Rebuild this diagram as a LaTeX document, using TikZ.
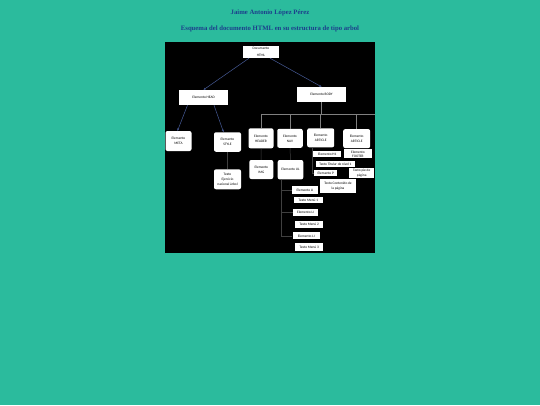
\documentclass[tikz,border=0pt]{standalone}
\usepackage{fontspec}
\setmainfont{Liberation Serif}
\newfontfamily\boxfont{Carlito}
\usepackage{xcolor}
\usetikzlibrary{arrows.meta}
\definecolor{fondo}{RGB}{43,187,157}
\definecolor{titulo}{RGB}{28,62,140}
\definecolor{flecha}{RGB}{70,90,150}

\begin{document}
\begin{tikzpicture}[y=-1pt,x=1pt,
	caja/.style={fill=white, inner sep=0pt, align=center, font=\boxfont\fontsize{3.5}{5}\selectfont},
	redonda/.style={caja, rounded corners=2pt},
	tam/.style 2 args={minimum width=#1pt, minimum height=#2pt},
	flechita/.style={draw=flecha, line width=0.5pt, -{Stealth[length=2.5pt,width=2pt]}},
	rama/.style={draw=gray, line width=0.5pt},
	ramita/.style={draw=darkgray, line width=0.5pt}]

	\fill[fondo] (0,0) rectangle (540,405);
	\fill[black] (164.5,42) rectangle (375,252.5);

	\node[font=\bfseries\fontsize{6.7}{8}\selectfont, text=titulo] (autor) at (270,13) {Jaime Antonio López Pérez};
	\node[font=\bfseries\fontsize{6.7}{8}\selectfont, text=titulo] (titulo) at (270,29.3) {Esquema del documento HTML en su estructura de tipo arbol};

	\node[caja, font=\boxfont\fontsize{3.5}{7}\selectfont, tam={36}{12}] (doc) at (261,52) {Documento\\HTML};
	\node[caja, tam={49}{15}] (head) at (203.5,97.5) {Elemento HEAD};
	\node[caja, tam={49}{15}] (body) at (321.5,94.5) {Elemento BODY};

	\node[redonda, tam={26}{20}] (meta) at (178.5,141) {Elemento\\META};
	\node[redonda, tam={27}{19.5}] (style) at (227.5,142) {Elemento\\STYLE};
	\node[redonda, tam={27}{20}] (txtstyle) at (227.5,179.3) {Texto\\Ejercicio\\nacional árbol};

	\node[redonda, tam={25}{20}] (header) at (261,138.3) {Elemento\\HEADER};
	\node[redonda, tam={25.5}{19}] (nav) at (290,138.3) {Elemento\\NAV};
	\node[redonda, tam={27}{19}] (article) at (320.7,137.8) {Elemento\\ARTICLE};
	\node[redonda, tam={27}{19}] (article2) at (356.7,138.6) {Elemento\\ARTICLE};
	\node[redonda, tam={24}{19}] (img) at (261.3,169.5) {Elemento\\IMG};
	\node[redonda, tam={25.6}{19.3}] (ul) at (290.5,169.7) {Elemento UL};

	\node[caja, tam={27.7}{6.3}] (h1) at (327.2,154.2) {Elemento H1};
	\node[caja, font=\boxfont\fontsize{3.5}{4}\selectfont, tam={27.7}{9}] (footer) at (357.9,153.8) {Elemento\\FOOTER};
	\node[caja, tam={39.3}{6.6}] (txth1) at (335.4,164) {Texto Titular de nivel 1};
	\node[caja, tam={23}{5.7}] (p) at (325.8,172.9) {Elemento P};
	\node[caja, font=\boxfont\fontsize{3.5}{4.5}\selectfont, tam={25.3}{10.6}] (txtfoot) at (361.7,173) {Texto pie de\\página};
	\node[caja, tam={36}{13.4}] (txtp) at (338,186) {Texto Contenido de\\la página};

	\node[caja, tam={26}{8}] (li1) at (305,189.8) {Elemento LI};
	\node[caja, tam={28.7}{6.6}] (menu1) at (308.4,200) {Texto Menú 1};
	\node[caja, tam={25.6}{6.7}] (li2) at (305.5,212.7) {Elemento LI};
	\node[caja, tam={28.3}{7}] (menu2) at (309.2,224.2) {Texto Menú 2};
	\node[caja, tam={27.3}{7}] (li3) at (306.3,235.8) {Elemento LI};
	\node[caja, tam={28.3}{7.4}] (menu3) at (309.2,247) {Texto Menú 3};

	\draw[flechita] ([xshift=-12pt]doc.south) -- (head.north);
	\draw[flechita] ([xshift=9pt]doc.south) -- (body.north);
	\draw[flechita] ([xshift=-16pt]head.south) -- ([xshift=-1pt]meta.north);
	\draw[flechita] ([xshift=10.5pt]head.south) -- ([xshift=-4pt]style.north);
	\draw[ramita] (style) -- (txtstyle);

	\coordinate (bus) at (321.5,114.3);
	\coordinate (busfin) at (375,114.3);
	\draw[rama] (body) -- (bus);
	\draw[rama] (header.north |- bus) -- (busfin);
	\foreach \n in {header,nav,article,article2}
		\draw[rama] (\n.north) -- (\n.north |- bus);

	\draw[ramita] (header) -- (img);
	\draw[ramita] (nav) -- (ul);
	\draw[ramita] ([xshift=-8pt]article.south) |- (p.west);
	\foreach \l in {li1,li2,li3}
		\draw[ramita] ([xshift=-9.5pt]ul.south) |- (\l.west);
\end{tikzpicture}
\end{document}
